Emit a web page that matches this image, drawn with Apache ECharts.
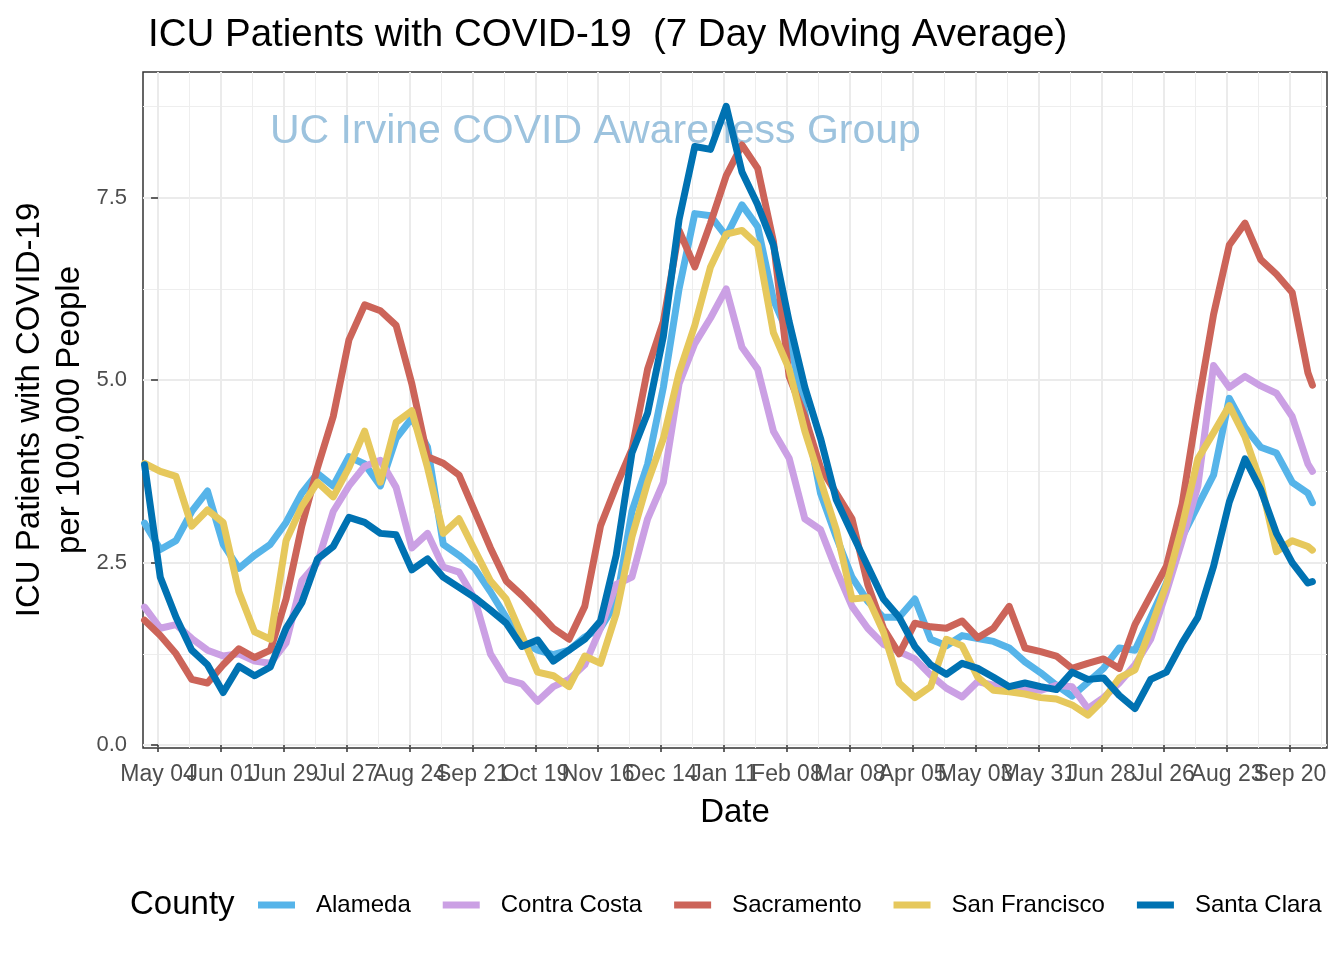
<!DOCTYPE html>
<html><head><meta charset="utf-8">
<script src="https://cdn.jsdelivr.net/npm/echarts@6/dist/echarts.min.js"></script>
<style>html,body{margin:0;padding:0;background:#fff}#c{width:1344px;height:960px}</style>
</head><body><div id="c"></div>
<script>
// Days since 2020-05-04 (sample points of the 7-day moving averages)
const days = [-6, 1, 8, 15, 22, 29, 36, 43, 50, 57, 64, 71, 78, 85, 92, 99, 106, 113, 120, 127,
  134, 141, 148, 155, 162, 169, 176, 183, 190, 197, 204, 211, 218, 225, 232, 239, 246, 253, 260, 267,
  274, 281, 288, 295, 302, 309, 316, 323, 330, 337, 344, 351, 358, 365, 372, 379, 386, 393, 400, 407,
  414, 421, 428, 435, 442, 449, 456, 463, 470, 477, 484, 491, 498, 505, 512, 514];

const tickDays = [0, 28, 56, 84, 112, 140, 168, 196, 224, 252, 280, 308, 336, 364, 392, 420, 448, 476, 504];
const tickLabels = ['May 04', 'Jun 01', 'Jun 29', 'Jul 27', 'Aug 24', 'Sep 21', 'Oct 19', 'Nov 16', 'Dec 14',
  'Jan 11', 'Feb 08', 'Mar 08', 'Apr 05', 'May 03', 'May 31', 'Jun 28', 'Jul 26', 'Aug 23', 'Sep 20'];
const minorDays = [14, 42, 70, 98, 126, 154, 182, 210, 238, 266, 294, 322, 350, 378, 406, 434, 462, 490, 518];
const yTicks = [0, 2.5, 5, 7.5];
const yMinor = [1.25, 3.75, 6.25, 8.75];

const counties = ['Alameda', 'Contra Costa', 'Sacramento', 'San Francisco', 'Santa Clara'];
const colors = ['#56B4E9', '#CBA0E4', '#CC6459', '#E6C85C', '#0072B2'];

const alameda = [3.04, 2.68, 2.8, 3.2, 3.48, 2.75, 2.42, 2.6, 2.75, 3.05, 3.45, 3.72, 3.55, 3.95, 3.85, 3.55, 4.2, 4.48, 4.08, 2.75,
  2.6, 2.42, 2.1, 1.75, 1.42, 1.3, 1.24, 1.3, 1.48, 1.6, 1.95, 3.2, 3.85, 4.9, 6.25, 7.28, 7.25, 6.97, 7.4, 7.1,
  6.1, 5.6, 4.55, 3.45, 2.85, 2.3, 1.97, 1.75, 1.75, 2.0, 1.45, 1.36, 1.5, 1.46, 1.42, 1.33, 1.14, 0.99, 0.82, 0.67,
  0.86, 1.05, 1.33, 1.3, 1.75, 2.22, 2.85, 3.28, 3.7, 4.75, 4.35, 4.08, 4.0, 3.6, 3.45, 3.32];
const contraCosta = [1.89, 1.6, 1.65, 1.46, 1.3, 1.22, 1.25, 1.15, 1.12, 1.4, 2.25, 2.5, 3.2, 3.55, 3.82, 3.9, 3.53, 2.7, 2.9, 2.44,
  2.37, 2.0, 1.25, 0.9, 0.84, 0.6, 0.8, 0.9, 1.1, 1.6, 2.2, 2.3, 3.1, 3.6, 4.95, 5.5, 5.85, 6.25, 5.45, 5.15,
  4.3, 3.93, 3.1, 2.95, 2.4, 1.9, 1.6, 1.38, 1.28, 1.18, 0.96, 0.78, 0.66, 0.87, 0.82, 0.78, 0.77, 0.75, 0.82, 0.8,
  0.5, 0.65, 0.85, 1.1, 1.45, 2.1, 2.8, 3.55, 5.2, 4.9, 5.05, 4.92, 4.82, 4.5, 3.85, 3.75];
const sacramento = [1.71, 1.5, 1.25, 0.9, 0.85, 1.1, 1.32, 1.2, 1.3, 2.0, 3.0, 3.8, 4.5, 5.55, 6.03, 5.95, 5.75, 4.95, 3.95, 3.86,
  3.7, 3.2, 2.7, 2.25, 2.05, 1.83, 1.6, 1.45, 1.9, 3.0, 3.55, 4.05, 5.15, 5.8, 7.05, 6.55, 7.15, 7.8, 8.22, 7.9,
  6.9, 5.05, 4.5, 3.8, 3.45, 3.1, 2.2, 1.6, 1.25, 1.67, 1.62, 1.6, 1.7, 1.47, 1.6, 1.9, 1.33, 1.28, 1.22, 1.05,
  1.12, 1.18, 1.05, 1.65, 2.05, 2.45, 3.3, 4.65, 5.9, 6.85, 7.15, 6.65, 6.45, 6.2, 5.1, 4.93];
const sanFrancisco = [3.86, 3.75, 3.68, 3.0, 3.22, 3.05, 2.1, 1.55, 1.45, 2.8, 3.27, 3.6, 3.4, 3.8, 4.3, 3.6, 4.42, 4.58, 3.8, 2.9,
  3.1, 2.67, 2.25, 2.0, 1.5, 1.0, 0.95, 0.8, 1.22, 1.12, 1.8, 2.85, 3.6, 4.2, 5.1, 5.75, 6.55, 7.0, 7.05, 6.85,
  5.65, 5.15, 4.3, 3.62, 2.95, 2.0, 2.02, 1.55, 0.85, 0.65, 0.8, 1.45, 1.36, 0.93, 0.75, 0.73, 0.7, 0.65, 0.63, 0.55,
  0.41, 0.62, 0.92, 1.03, 1.6, 2.2, 3.0, 3.92, 4.28, 4.65, 4.22, 3.6, 2.65, 2.8, 2.72, 2.67];
const santaClara = [3.84, 2.3, 1.75, 1.3, 1.1, 0.72, 1.08, 0.95, 1.07, 1.6, 1.95, 2.55, 2.72, 3.12, 3.05, 2.9, 2.88, 2.4, 2.55, 2.3,
  2.16, 2.02, 1.85, 1.67, 1.35, 1.44, 1.15, 1.3, 1.45, 1.7, 2.6, 4.0, 4.55, 5.6, 7.2, 8.2, 8.16, 8.75, 7.85, 7.4,
  6.85, 5.8, 4.9, 4.2, 3.36, 2.9, 2.45, 2.0, 1.75, 1.35, 1.1, 0.97, 1.12, 1.05, 0.93, 0.8, 0.85, 0.8, 0.76, 1.0,
  0.9, 0.92, 0.68, 0.5, 0.9, 1.0, 1.4, 1.75, 2.45, 3.33, 3.92, 3.5, 2.9, 2.5, 2.22, 2.24];

const seriesValues = [alameda, contraCosta, sacramento, sanFrancisco, santaClara];

const FONT = "'Liberation Sans', Arial, Helvetica, sans-serif";
const chart = echarts.init(document.getElementById('c'), null, {renderer: 'canvas'});

// alternate tick labels between two identical overlaid grids so that
// overlapping neighbour labels are both kept (as in the original)
const evenTicks = tickDays.filter((d, i) => i % 2 === 0);
const oddTicks = tickDays.filter((d, i) => i % 2 === 1);
const fmtDay = v => { const i = tickDays.indexOf(Math.round(v)); return i >= 0 ? tickLabels[i] : ''; };

const X_MIN = -6.7, X_MAX = 520.5, Y_MIN = -0.04, Y_MAX = 9.22;
const gridBox = {left: 143, right: 17, top: 72, bottom: 212, containLabel: false, outerBoundsMode: 'none'};

const labelStyle = {fontFamily: FONT, fontSize: 23, color: '#4D4D4D'};
const tickStyle = {length: 7, lineStyle: {color: '#333333', width: 1.5}};

chart.setOption({
  animation: false,
  backgroundColor: '#ffffff',
  textStyle: {fontFamily: FONT},
  title: {
    text: 'ICU Patients with COVID-19  (7 Day Moving Average)',
    left: 143, top: 11,
    textStyle: {fontFamily: FONT, fontSize: 38.5, fontWeight: 'normal', color: '#000'}
  },
  grid: [
    Object.assign({show: true, borderColor: '#333333', borderWidth: 1.5, backgroundColor: 'transparent'}, gridBox),
    Object.assign({show: false}, gridBox)
  ],
  xAxis: [
    {
      type: 'value', min: X_MIN, max: X_MAX, gridIndex: 0, position: 'bottom',
      name: 'Date', nameLocation: 'middle', nameGap: 48,
      nameTextStyle: {fontFamily: FONT, fontSize: 33, color: '#000'},
      axisLine: {show: false},
      axisTick: Object.assign({show: true, customValues: evenTicks}, tickStyle),
      axisLabel: Object.assign({show: true, customValues: evenTicks, margin: 15,
        showMinLabel: true, showMaxLabel: true, formatter: fmtDay}, labelStyle),
      splitLine: {show: true, lineStyle: {color: '#EBEBEB', width: 2}}
    },
    {
      type: 'value', min: X_MIN, max: X_MAX, gridIndex: 0, position: 'top',
      axisLine: {show: false},
      axisTick: {show: false, customValues: minorDays},
      axisLabel: {show: false},
      splitLine: {show: true, lineStyle: {color: '#EEEEEE', width: 1}}
    },
    {
      type: 'value', min: X_MIN, max: X_MAX, gridIndex: 1, position: 'bottom',
      axisLine: {show: false},
      axisTick: Object.assign({show: true, customValues: oddTicks}, tickStyle),
      axisLabel: Object.assign({show: true, customValues: oddTicks, margin: 15,
        showMinLabel: true, showMaxLabel: true, formatter: fmtDay}, labelStyle),
      splitLine: {show: true, lineStyle: {color: '#EBEBEB', width: 2}}
    }
  ],
  yAxis: [
    {
      type: 'value', min: Y_MIN, max: Y_MAX, gridIndex: 0, position: 'left',
      name: 'ICU Patients with COVID-19\nper 100,000 People', nameLocation: 'middle', nameGap: 53,
      nameMoveOverlap: false,
      nameTextStyle: {fontFamily: FONT, fontSize: 33, lineHeight: 40, color: '#000', align: 'center'},
      axisLine: {show: false},
      axisTick: Object.assign({show: true, customValues: yTicks}, tickStyle),
      axisLabel: {
        show: true, customValues: yTicks, margin: 16, showMinLabel: true, showMaxLabel: true,
        fontFamily: FONT, fontSize: 22, color: '#4D4D4D',
        formatter: v => v.toFixed(1)
      },
      splitLine: {show: true, lineStyle: {color: '#EBEBEB', width: 2}}
    },
    {
      type: 'value', min: Y_MIN, max: Y_MAX, gridIndex: 0, position: 'right',
      axisLine: {show: false},
      axisTick: {show: false, customValues: yMinor},
      axisLabel: {show: false},
      splitLine: {show: true, lineStyle: {color: '#EEEEEE', width: 1}}
    },
    {
      type: 'value', min: Y_MIN, max: Y_MAX, gridIndex: 1, position: 'left',
      axisLine: {show: false}, axisTick: {show: false}, axisLabel: {show: false},
      splitLine: {show: false}
    }
  ],
  legend: {
    left: 253, top: 888, orient: 'horizontal',
    icon: 'rect', itemWidth: 37, itemHeight: 7, itemGap: 32,
    textStyle: {fontFamily: FONT, fontSize: 24, color: '#000', padding: [0, 0, 0, 16]},
    data: counties
  },
  graphic: [
    {
      type: 'text', left: 130, top: 888, z: 10,
      style: {text: 'County', fontFamily: FONT, fontSize: 33, fill: '#000'}
    },
    {
      type: 'text', left: 270, top: 111, z: 1,
      style: {text: 'UC Irvine COVID Awareness Group', fontFamily: FONT, fontSize: 41, fill: '#9DC3DE'}
    }
  ],
  series: counties.map((name, k) => ({
    name: name,
    type: 'line',
    xAxisIndex: 0, yAxisIndex: 0,
    showSymbol: false, symbol: 'none',
    color: colors[k],
    lineStyle: {width: 7, color: colors[k], join: 'round', cap: 'round'},
    z: 3 + k,
    data: days.map((d, i) => [d, seriesValues[k][i]])
  }))
});
</script>
</body></html>
